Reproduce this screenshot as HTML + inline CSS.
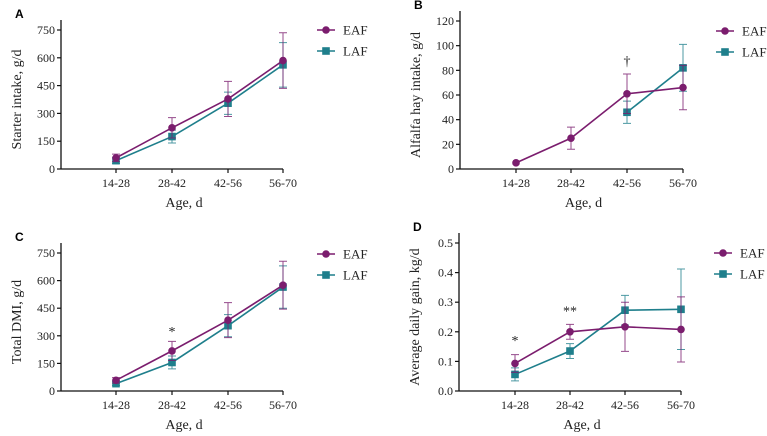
<!DOCTYPE html>
<html><head><meta charset="utf-8"><style>
body{margin:0;background:#fff}
svg{display:block;font-family:"Liberation Serif",serif}
svg text{font-family:"Liberation Serif",serif}
svg text.lbl{font-family:"Liberation Sans",sans-serif}
</style></head><body>
<svg id="fig" width="767" height="436" viewBox="0 0 767 436" xmlns="http://www.w3.org/2000/svg" font-family="Liberation Serif, serif"></svg>
<script>
const categories=["14-28","28-42","42-56","56-70"];
const aEAF=[60,222,378,585], aEAFerr=[20,55,95,150];
const aLAF=[45,175,355,562], aLAFerr=[15,35,60,120];
const bEAF=[5,25,61,66], bEAFerr=[0,9,16,18];
const bLAF=[null,null,46,82], bLAFerr=[0,0,9,19];
const cEAF=[58,218,385,575], cEAFerr=[15,52,95,130];
const cLAF=[40,155,355,565], cLAFerr=[10,35,60,115];
const dEAF=[0.093,0.200,0.217,0.208], dEAFerr=[0.03,0.025,0.083,0.11];
const dLAF=[0.056,0.135,0.273,0.276], dLAFerr=[0.022,0.025,0.05,0.136];
const ticksA=[0,150,300,450,600,750];
const ticksB=[0,20,40,60,80,100,120];
const ticksD=[0,0.1,0.2,0.3,0.4,0.5];
const EC="#7b1d6e", LC="#1f7f8c";
const svg=document.getElementById('fig');
const NS="http://www.w3.org/2000/svg";
function mk(tag,attrs,parent){const e=document.createElementNS(NS,tag);for(const k in attrs)e.setAttribute(k,attrs[k]);(parent||svg).appendChild(e);return e;}
function panel(p){
  const g=mk('g',{});
  
  
  const ymax=p.ticks[p.ticks.length-1];
  const y=v=>p.y0-(v/ymax)*(p.y0-p.ytop);
  const x=i=>p.xs[i];
  const lt=mk('text',{class:'lbl',x:p.ax-46,y:p.ytop-12,'font-weight':'bold','font-size':12},g);
  lt.textContent=p.letter;
  
  
  mk('line',{x1:p.ax,y1:p.ytop-10,x2:p.ax,y2:p.y0,stroke:'#111','stroke-width':1.3},g);
  mk('line',{x1:p.ax,y1:p.y0,x2:x(3),y2:p.y0,stroke:'#111','stroke-width':1.3},g);
  p.ticks.forEach(t=>{
    mk('line',{x1:p.ax-4,y1:y(t),x2:p.ax,y2:y(t),stroke:'#111','stroke-width':1.2},g);
    const tx=mk('text',{x:p.ax-6,y:y(t)+4,'text-anchor':'end','font-size':12,fill:'#222'},g);
    tx.textContent=p.fmt?t.toFixed(1):t;
    
    
  });
  categories.forEach((c,i)=>{
    mk('line',{x1:x(i),y1:p.y0,x2:x(i),y2:p.y0+4,stroke:'#111','stroke-width':1.2},g);
    const tx=mk('text',{x:x(i),y:p.y0+18,'text-anchor':'middle','font-size':12,fill:'#222'},g);
    tx.textContent=c;
    
    
  });
  const xt=mk('text',{x:(p.ax+x(3))/2+12,y:p.y0+38,'text-anchor':'middle','font-size':14,fill:'#222'},g);
  xt.textContent="Age, d";
  
  
  const ym=(p.ytop+p.y0)/2;
  const yx=p.ax-40;
  const yt=mk('text',{x:yx,y:ym,'text-anchor':'middle','font-size':14,fill:'#222',transform:`rotate(-90 ${yx} ${ym})`},g);
  yt.textContent=p.ytitle;
  
  
  [[p.L,p.Le,LC,'laf'],[p.E,p.Ee,EC,'eaf']].forEach(([vals,errs,col,nm])=>{
    const pts=[];
    vals.forEach((v,i)=>{
      if(v===null)return;
      pts.push(x(i)+','+y(v));
      if(errs[i]>0){
        const eb=mk('path',{d:`M${x(i)},${y(v-errs[i])}V${y(v+errs[i])}M${x(i)-4},${y(v+errs[i])}h8M${x(i)-4},${y(v-errs[i])}h8`,stroke:col,'stroke-width':1,fill:'none',opacity:0.8},g);
        
        
      }
    });
    const ln=mk('polyline',{points:pts.join(' '),fill:'none',stroke:col,'stroke-width':1.6},g);
    
    
    vals.forEach((v,i)=>{
      if(v===null)return;
      let m;
      if(nm==='eaf')m=mk('circle',{cx:x(i),cy:y(v),r:3.8,fill:col},g);
      else m=mk('rect',{x:x(i)-3.8,y:y(v)-3.8,width:7.6,height:7.6,fill:col},g);
      
      
    });
  });
  (p.ann||[]).forEach(a=>{
    const t=mk('text',{x:x(a[0]),y:y(a[1]),'text-anchor':'middle','font-size':14,fill:'#222'},g);
    t.textContent=a[2];
    
    
  });
  [['EAF',EC,p.legY],['LAF',LC,p.legY+21]].forEach(([n,col,ly],k)=>{
    const lg=mk('g',{},g);
    
    
    mk('line',{x1:p.legX-9,y1:ly,x2:p.legX+9,y2:ly,stroke:col,'stroke-width':1.6},lg);
    if(k===0)mk('circle',{cx:p.legX,cy:ly,r:3.8,fill:col},lg);
    else mk('rect',{x:p.legX-3.8,y:ly-3.8,width:7.6,height:7.6,fill:col},lg);
    const t=mk('text',{x:p.legX+17,y:ly+4.5,'font-size':13,fill:'#222'},lg);
    t.textContent=n;
  });
}
panel({letter:'A',ax:61,ytop:30,y0:169,xs:[116,172,228,283],ticks:ticksA,ytitle:'Starter intake, g/d',E:aEAF,Ee:aEAFerr,L:aLAF,Le:aLAFerr,legX:326,legY:30});
panel({letter:'B',ax:460,ytop:21,y0:169,xs:[516,571,627,683],ticks:ticksB,ytitle:'Alfalfa hay intake, g/d',E:bEAF,Ee:bEAFerr,L:bLAF,Le:bLAFerr,legX:725,legY:31,ann:[[2,84,'†']]});
panel({letter:'C',ax:61,ytop:253,y0:391,xs:[116,172,228,283],ticks:ticksA,ytitle:'Total DMI, g/d',E:cEAF,Ee:cEAFerr,L:cLAF,Le:cLAFerr,legX:326,legY:254,ann:[[1,300,'*']]});
panel({letter:'D',ax:459,ytop:243,y0:391,xs:[515,570,625,681],ticks:ticksD,fmt:true,ytitle:'Average daily gain, kg/d',E:dEAF,Ee:dEAFerr,L:dLAF,Le:dLAFerr,legX:723,legY:253,ann:[[0,0.155,'*'],[1,0.255,'**']]});
</script>
</body></html>
